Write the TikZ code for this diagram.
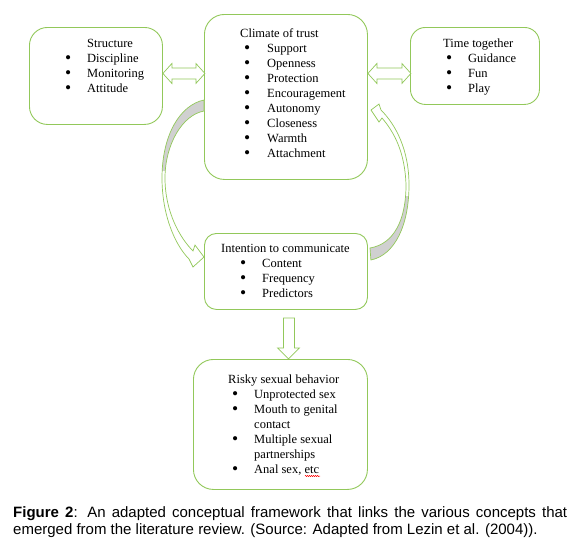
\documentclass[tikz,border=0pt]{standalone}
\usepackage{graphicx}
\usepackage{fontspec}
\setmainfont{Liberation Serif}
\newfontfamily\capfont{Liberation Sans}
\usetikzlibrary{calc,decorations.pathmorphing}
\definecolor{boxgreen}{RGB}{146,200,90}
\definecolor{shadegrey}{RGB}{208,208,208}
\newcommand{\bigbul}{\raisebox{-1.3pt}{\scalebox{1.4}{\textbullet}}}
\newcommand{\bul}[3]{\hspace*{\dimexpr#1pt-3pt\relax}\makebox[6pt]{\bigbul}\hspace*{\dimexpr#2pt-3pt\relax}#3}
\begin{document}
\begin{tikzpicture}[x=1pt,y=-1pt,
  box/.style={draw=boxgreen, line width=0.9pt, rounded corners=18pt, inner sep=0pt, anchor=north west},
  txt/.style={inner sep=0pt, anchor=base west, font=\fontsize{12.5}{15}\selectfont},
  blockarrow/.style={draw=boxgreen, line width=0.7pt, fill=white, line join=miter},
]
\useasboundingbox (0,0) rectangle (582,555);

% boxes
\node[box, minimum width=133pt, minimum height=97pt] (struct) at (29,27) {};
\node[box, minimum width=163pt, minimum height=165pt, rounded corners=20pt] (climate) at (204,14) {};
\node[box, minimum width=129pt, minimum height=77pt, rounded corners=15pt] (time) at (410,27) {};
\node[box, minimum width=163pt, minimum height=76pt, rounded corners=12pt] (intent) at (204,233) {};
\node[box, minimum width=174pt, minimum height=130pt, rounded corners=20pt] (risky) at (193,359) {};

% texts
\node[txt] (structT) at (65,47) {\begin{tabular}[t]{@{}l@{}}
\hspace*{22pt}Structure\\
\bul{3}{19}{Discipline}\\
\bul{3}{19}{Monitoring}\\
\bul{3}{19}{Attitude}
\end{tabular}};
\node[txt] (climateT) at (240,37) {\begin{tabular}[t]{@{}l@{}}
Climate of trust\\
\bul{7}{20}{Support}\\
\bul{7}{20}{Openness}\\
\bul{7}{20}{Protection}\\
\bul{7}{20}{Encouragement}\\
\bul{7}{20}{Autonomy}\\
\bul{7}{20}{Closeness}\\
\bul{7}{20}{Warmth}\\
\bul{7}{20}{Attachment}
\end{tabular}};
\node[txt] (timeT) at (443,47) {\begin{tabular}[t]{@{}l@{}}
Time together\\
\bul{6}{19}{Guidance}\\
\bul{6}{19}{Fun}\\
\bul{6}{19}{Play}
\end{tabular}};
\node[txt] (intentT) at (221,252) {\begin{tabular}[t]{@{}l@{}}
Intention to communicate\\
\bul{22}{19}{Content}\\
\bul{22}{19}{Frequency}\\
\bul{22}{19}{Predictors}
\end{tabular}};
\node[txt] (riskyT) at (228,383) {\begin{tabular}[t]{@{}l@{}}
Risky sexual behavior\\
\bul{7}{19}{Unprotected sex}\\
\bul{7}{19}{Mouth to genital}\\
\hspace*{26pt}contact\\
\bul{7}{19}{Multiple sexual}\\
\hspace*{26pt}partnerships\\
\bul{7}{19}{Anal sex, etc}
\end{tabular}};
\coordinate (wavyA) at (305,476);
\coordinate (wavyB) at (320,476);
\draw[red, line width=0.5pt, decorate, decoration={snake, amplitude=0.6pt, segment length=2pt}] (wavyA) -- (wavyB);

% double arrows
\draw[blockarrow] ($(struct.east)+(0,-2.5)$) -- ++(9,-10) -- ++(0,4.5) -- ++(24,0) -- ++(0,-4.5)
  -- ++(9,10) -- ++(-9,10) -- ++(0,-4.5) -- ++(-24,0) -- ++(0,4.5) -- cycle;
\draw[blockarrow] ($(climate.east)+(0,-23.5)$) -- ++(9,-10) -- ++(0,4.5) -- ++(25,0) -- ++(0,-4.5)
  -- ++(9,10) -- ++(-9,10) -- ++(0,-4.5) -- ++(-25,0) -- ++(0,4.5) -- cycle;

% down arrow
\draw[blockarrow] ($(intent.south)+(-2.5,8)$) -- ++(11,0) -- ++(0,30) -- ++(5,0) -- ++(-11,11)
  -- ++(-11,-11) -- ++(6,0) -- cycle;

% curved arrows
\coordinate (la) at ($(climate.north west)+(0,86)$);
\coordinate (ra) at ($(intent.north east)+(3,27)$);
\def\leftcurve{(la) .. controls (180,105) and (162,135) .. (162,178)
  .. controls (162,215) and (175,245) .. (189,259)
  -- (193,267) -- (204,257) -- (195,245) -- (193,251)
  .. controls (180,238) and (165,212) .. (165,178)
  .. controls (165,145) and (182,115) .. (204,111) -- cycle}
\def\rightcurve{(ra) .. controls (395,255) and (409,225) .. (409,185)
  .. controls (409,150) and (396,125) .. (381,110)
  -- (379,104) -- (371,110) -- (379,122) -- (382,118)
  .. controls (394,132) and (405,152) .. (406,185)
  .. controls (406,220) and (394,244) .. (370,248) -- cycle}
\fill[white] \leftcurve;
\begin{scope}
\clip (150,90) rectangle (212,170);
\fill[shadegrey] \leftcurve;
\end{scope}
\draw[boxgreen, line width=0.7pt, line join=miter] \leftcurve;
\fill[white] \rightcurve;
\begin{scope}
\clip (360,196) rectangle (415,265);
\fill[shadegrey] \rightcurve;
\end{scope}
\draw[boxgreen, line width=0.7pt, line join=miter] \rightcurve;

% caption
\node[inner sep=0pt, anchor=base west] (caption) at (13,517) {\parbox[t]{554pt}{\capfont\fontsize{15}{17}\selectfont
\textbf{Figure 2}: An adapted conceptual framework that links the various concepts that emerged from the literature review. (Source: Adapted from Lezin et al. (2004)).}};
\end{tikzpicture}
\end{document}
